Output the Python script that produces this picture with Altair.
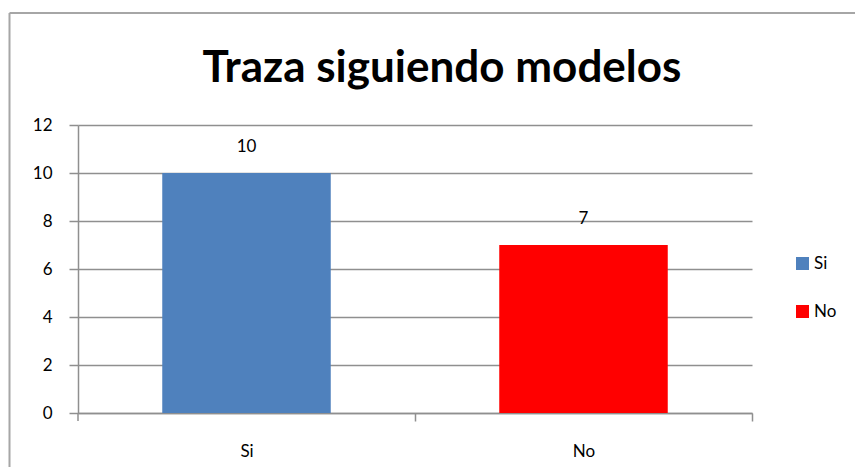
import altair as alt
import pandas as pd

categories = ["Si", "No"]
values = [10, 7]
colors = ["#4F81BD", "#FF0000"]
title_text = "Traza siguiendo modelos"
y_ticks = [0, 2, 4, 6, 8, 10, 12]

df = pd.DataFrame({"cat": categories, "val": values})

FONT = "Lato"
GRID = "#8f8f8f"

x_enc = alt.X("cat:N", sort=categories,
              scale=alt.Scale(paddingInner=0.5, paddingOuter=0.25),
              axis=alt.Axis(title=None, labelAngle=0, labelFontSize=17, labelFont=FONT,
                            labelColor="#000000", labelPadding=22, tickOffset=168.5,
                            labelOffset=-168.5,
                            tickSize=8, tickColor=GRID, domainColor=GRID, domainWidth=1.5,
                            tickWidth=1.5, grid=False))
y_enc = alt.Y("val:Q", scale=alt.Scale(domain=[0, 12], nice=False),
              axis=alt.Axis(title=None, values=y_ticks, labelFontSize=17, labelFont=FONT,
                            labelColor="#000000", labelPadding=17, tickSize=9,
                            tickColor=GRID, tickWidth=1.5, domainColor=GRID, domainWidth=1.5,
                            grid=True, gridColor=GRID, gridWidth=1.5))

bars = alt.Chart(df).mark_bar().encode(
    x=x_enc,
    y=y_enc,
    color=alt.Color("cat:N", sort=categories,
                    scale=alt.Scale(domain=categories, range=colors),
                    legend=alt.Legend(title=None, orient="none", legendX=716, legendY=130,
                                      symbolType="square", symbolSize=170,
                                      symbolStrokeWidth=0, labelFontSize=17,
                                      labelFont=FONT, labelColor="#000000",
                                      rowPadding=30, labelOffset=3)),
)

labels = alt.Chart(df).mark_text(dy=-26, fontSize=17, font=FONT, color="#000000").encode(
    x=alt.X("cat:N", sort=categories),
    y="val:Q",
    text="val:Q",
)

title = alt.Chart(df.head(1)).mark_text(
    fontSize=44, font=FONT, fontWeight="bold", color="#000000", baseline="alphabetic"
).encode(x=alt.value(364), y=alt.value(-43), text=alt.value(title_text))

left_tick = alt.Chart(df.head(1)).mark_rule(color=GRID, strokeWidth=1.5).encode(
    x=alt.value(0), x2=alt.value(0), y=alt.value(288), y2=alt.value(296))

border_top = alt.Chart(df.head(1)).mark_rule(color="#a6a6a6", strokeWidth=2).encode(
    x=alt.value(-68.5), x2=alt.value(800), y=alt.value(-112), y2=alt.value(-112))
border_left = alt.Chart(df.head(1)).mark_rule(color="#a6a6a6", strokeWidth=2).encode(
    x=alt.value(-68.5), x2=alt.value(-68.5), y=alt.value(-112), y2=alt.value(360))

chart = alt.layer(bars, labels, title, left_tick, border_top, border_left).properties(
    width=674, height=288,
    autosize=alt.AutoSizeParams(type="none"),
    padding={"left": 70, "top": 117, "right": 103, "bottom": 54},
    background="#ffffff",
).configure_view(stroke=None)

chart.save("out.html", embed_options={"renderer": "svg", "actions": False})
